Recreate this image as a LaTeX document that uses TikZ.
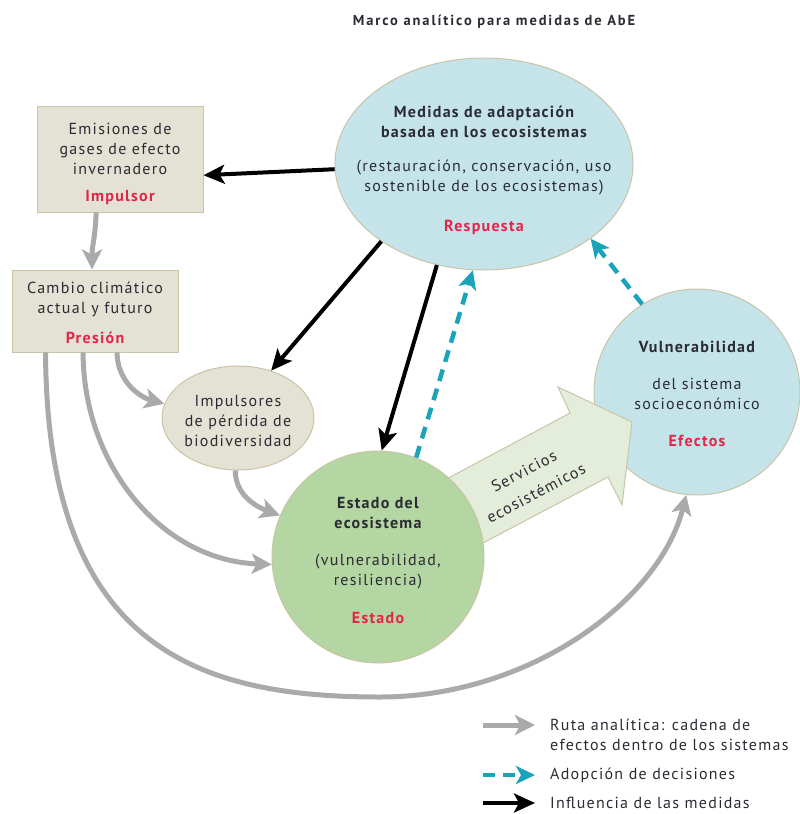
\documentclass[tikz,border=0pt]{standalone}
\usepackage{fontspec}
\setmainfont{PT Sans}[LetterSpace=8]
\usetikzlibrary{shapes.geometric,arrows.meta,calc}
\definecolor{ink}{HTML}{2B2B33}
\definecolor{redt}{HTML}{E2264A}
\definecolor{beigef}{HTML}{E4E2D5}
\definecolor{beiged}{HTML}{C9C4A6}
\definecolor{bluef}{HTML}{C5E4EA}
\definecolor{greenf}{HTML}{B4D6A2}
\definecolor{arrowf}{HTML}{E3EDDA}
\definecolor{cyanc}{HTML}{1BA3B9}
\definecolor{grayc}{HTML}{A9AAAC}
\begin{document}
\begin{tikzpicture}[x=1pt,y=1pt,
  txt/.style={font=\fontsize{16}{20}\selectfont, text=ink, align=center, inner sep=0pt},
  btxt/.style={txt, font=\fontsize{16}{20}\selectfont\bfseries},
  rtxt/.style={txt, text=redt, font=\fontsize{16}{20}\selectfont\bfseries},
  ltxt/.style={txt, align=left, anchor=west},
  boxst/.style={draw=beiged, fill=beigef, line width=1pt, inner sep=0pt},
  ellst/.style={ellipse, draw=beiged, line width=1pt, inner sep=0pt},
  circst/.style={circle, draw=beiged, line width=1pt, inner sep=0pt},
  grayarr/.style={draw=grayc, line width=5pt, -{Stealth[length=20pt,width=20pt,inset=5pt]}},
  blackarr/.style={draw=black, line width=4pt, -{Stealth[length=21pt,width=19pt,inset=5pt]}},
  cyanarr/.style={draw=cyanc, line width=4.5pt, dash pattern=on 12pt off 8pt, -{Stealth[length=19pt,width=18pt,inset=5pt]}}
]
\useasboundingbox (0,0) rectangle (800,-814);

% title
\node[txt, font=\fontsize{14.5}{16}\selectfont\bfseries\addfontfeature{LetterSpace=13}] (title) at (494,-22) {Marco analítico para medidas de AbE};

% boxes
\node[boxst, minimum width=166pt, minimum height=106pt] (emi) at (120,-159) {};
\node[txt] (emiT) at (120,-149) {Emisiones de\\gases de efecto\\invernadero};
\node[rtxt] (emiR) at (120,-197) {Impulsor};

\node[boxst, minimum width=166pt, minimum height=82pt] (cam) at (95,-311) {};
\node[txt] (camT) at (95,-299) {Cambio climático\\actual y futuro};
\node[rtxt] (camR) at (95,-338) {Presión};

% Medidas
\node[ellst, fill=bluef, minimum width=298pt, minimum height=212pt] (med) at (484,-164) {};
\node[btxt] (medT) at (484,-122) {Medidas de adaptación\\basada en los ecosistemas};
\node[txt] (medS) at (484,-177) {(restauración, conservación, uso\\sostenible de los ecosistemas)};
\node[rtxt] (medR) at (484,-227) {Respuesta};

% Vulnerabilidad
\node[circst, fill=bluef, minimum size=206pt] (vul) at (697,-392) {};
\node[btxt] (vulT) at (697,-347) {Vulnerabilidad};
\node[txt] (vulS) at (697,-394) {del sistema\\socioeconómico};
\node[rtxt] (vulR) at (697,-441) {Efectos};

% big arrow
\coordinate (ba1) at (413,-497);
\coordinate (ba2) at (570,-413);
\coordinate (ba3) at (558,-387);
\coordinate (ba4) at (632,-422);
\coordinate (ba5) at (622,-505);
\coordinate (ba6) at (608,-477);
\coordinate (ba7) at (447,-562);
\draw[draw=beiged, fill=arrowf, line width=1pt, line join=miter] (ba1) -- (ba2) -- (ba3) -- (ba4) -- (ba5) -- (ba6) -- (ba7) -- cycle;
\node[txt, rotate=28] (svc1) at (524,-471) {Servicios};
\node[txt, rotate=28] (svc2) at (536,-493) {ecosistémicos};

% Estado
\node[circst, fill=greenf, minimum size=212pt] (est) at (378,-557) {};
\node[btxt] (estT) at (378,-513) {Estado del\\ecosistema};
\node[txt] (estS) at (378,-572) {(vulnerabilidad,\\resiliencia)};
\node[rtxt] (estR) at (378,-618) {Estado};

% Impulsores
\node[ellst, fill=beigef, minimum width=152pt, minimum height=104pt] (imp) at (238,-418) {};
\node[txt] (impT) at (238,-421) {Impulsores\\de pérdida de\\biodiversidad};

% gray arrows
\draw[grayarr] (emi.246) .. controls (95,-240) and (92,-245) .. (cam.94);
\draw[grayarr] (cam.-62) to[out=-90,in=165] (imp.169);
\draw[grayarr] (cam.254) to[out=-90,in=178] (est.184);
\draw[grayarr] (imp.267) to[out=-90,in=160] (est.157);
\coordinate (low) at (380,-697);
\draw[grayarr] (cam.220) .. controls (47,-650) and (200,-697) .. (low) .. controls (530,-697) and (660,-600) .. (vul.264);

% black arrows
\draw[blackarr] (med.182) -- (emi.-11);
\draw[blackarr] (med.217) -- (imp.55);
\draw[blackarr] (med.245) -- (est.88);

% cyan dashed
\draw[cyanarr] (est.69) -- (med.264);
\draw[cyanarr] (vul.122) -- (med.-35);

% legend
\coordinate (l1a) at (483,-725); \coordinate (l1b) at (535,-725);
\coordinate (l2a) at (483,-775); \coordinate (l2b) at (535,-775);
\coordinate (l3a) at (483,-803); \coordinate (l3b) at (535,-803);
\draw[grayarr] (l1a) -- (l1b);
\draw[cyanarr] (l2a) -- (l2b);
\draw[blackarr] (l3a) -- (l3b);
\node[ltxt] (lt1) at (550,-734.5) {Ruta analítica: cadena de\\efectos dentro de los sistemas};
\node[ltxt] (lt2) at (550,-775) {Adopción de decisiones};
\node[ltxt] (lt3) at (550,-803) {Influencia de las medidas};
\end{tikzpicture}
\end{document}
